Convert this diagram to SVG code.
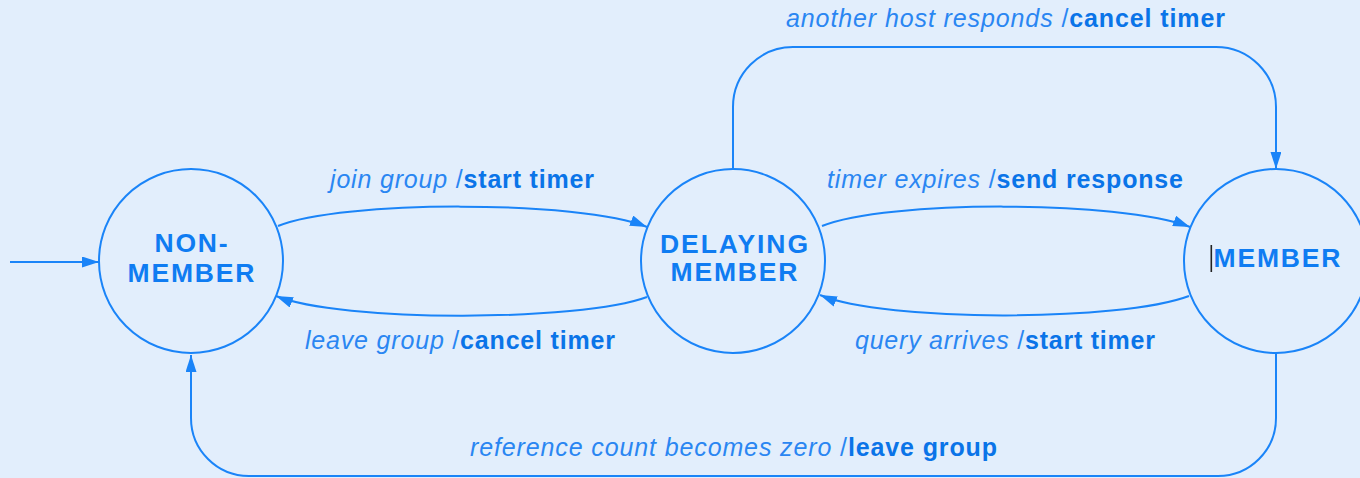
<svg xmlns="http://www.w3.org/2000/svg" width="1360" height="478" viewBox="0 0 1360 478">
<defs>
<style>
.bg{fill:#e2eefc}
.st{fill:#e2eefc;stroke:#1a84f8;stroke-width:2}
.ln{fill:none;stroke:#1a84f8;stroke-width:2}
.nm{font-family:"Liberation Sans",Arial,sans-serif;font-weight:bold;font-size:26.5px;fill:#0f7cf2;text-anchor:middle}
.lb{font-family:"Liberation Sans",Arial,sans-serif;font-size:25px}
.ev{font-style:italic;fill:#2a86f2}
.sl{fill:#2a86f2}
.ac{font-weight:bold;fill:#0a74e8}
</style>
<marker id="ah" markerUnits="userSpaceOnUse" markerWidth="18" markerHeight="12" refX="17" refY="5.5" orient="auto">
<path d="M0,0 L17,5.5 L0,11 z" fill="#1a84f8"/>
</marker>
</defs>
<rect class="bg" x="0" y="0" width="1360" height="478"/>
<g id="connectors">
<path class="ln" d="M10,262 L99,262" marker-end="url(#ah)"/>
<path class="ln" d="M278,226 C340,200 580,200 647,227" marker-end="url(#ah)"/>
<path class="ln" d="M647,297 C580,322 340,322 276,296" marker-end="url(#ah)"/>
<path class="ln" d="M822,226 C885,200 1120,200 1190,227" marker-end="url(#ah)"/>
<path class="ln" d="M1189,296 C1120,322 885,322 820,295" marker-end="url(#ah)"/>
<path class="ln" d="M733,168 L733,107 A60,60 0 0 1 793,47 L1216,47 A60,60 0 0 1 1276,107 L1276,169" marker-end="url(#ah)"/>
<path class="ln" d="M1276,354 L1276,418 A58,58 0 0 1 1218,476 L249,476 A58,58 0 0 1 191,418 L191,355" marker-end="url(#ah)"/>
</g>
<g id="non-member">
<circle class="st" cx="191" cy="261" r="92"/>
<text class="nm" x="191" y="252" textLength="73" lengthAdjust="spacing">NON-</text>
<text class="nm" x="191" y="282" textLength="127" lengthAdjust="spacing">MEMBER</text>
</g>
<g id="delaying-member">
<circle class="st" cx="733" cy="261" r="92"/>
<text class="nm" x="734" y="253" textLength="148" lengthAdjust="spacing">DELAYING</text>
<text class="nm" x="734" y="281" textLength="127" lengthAdjust="spacing">MEMBER</text>
</g>
<g id="member">
<circle class="st" cx="1276" cy="261" r="92"/>
<text class="nm" x="1277" y="267" textLength="127" lengthAdjust="spacing">MEMBER</text>
<rect x="1210.5" y="245" width="1.6" height="27" fill="#222"/>
</g>
<g id="labels">
<text class="lb" x="786" y="27" textLength="439" lengthAdjust="spacing"><tspan class="ev">another host responds </tspan><tspan class="sl">/</tspan><tspan class="ac">cancel timer</tspan></text>
<text class="lb" x="330" y="188" textLength="264" lengthAdjust="spacing"><tspan class="ev">join group </tspan><tspan class="sl">/</tspan><tspan class="ac">start timer</tspan></text>
<text class="lb" x="827" y="188" textLength="356" lengthAdjust="spacing"><tspan class="ev">timer expires </tspan><tspan class="sl">/</tspan><tspan class="ac">send response</tspan></text>
<text class="lb" x="305" y="349" textLength="310" lengthAdjust="spacing"><tspan class="ev">leave group </tspan><tspan class="sl">/</tspan><tspan class="ac">cancel timer</tspan></text>
<text class="lb" x="855" y="349" textLength="300" lengthAdjust="spacing"><tspan class="ev">query arrives </tspan><tspan class="sl">/</tspan><tspan class="ac">start timer</tspan></text>
<text class="lb" x="470" y="456" textLength="527" lengthAdjust="spacing"><tspan class="ev">reference count becomes zero </tspan><tspan class="sl">/</tspan><tspan class="ac">leave group</tspan></text>
</g>
</svg>
